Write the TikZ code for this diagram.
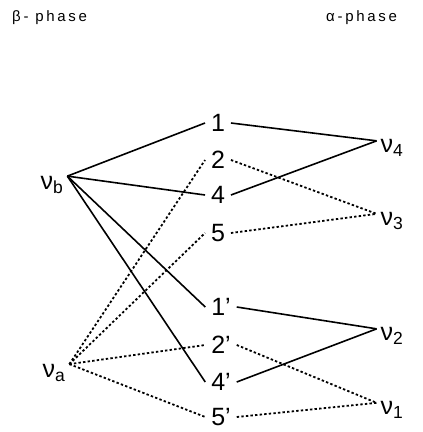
\documentclass[tikz,border=0pt]{standalone}
\usepackage{fontspec}
\setmainfont{Liberation Sans}
\newfontfamily\titlefont[LetterSpace=18]{Liberation Sans}
\begin{document}
\begin{tikzpicture}[x=1pt,y=-1pt,
  lab/.style={inner sep=0pt,outer sep=6pt,font=\fontsize{25}{27}\selectfont},
  nu/.style={inner sep=0pt,outer sep=4pt,font=\fontsize{25}{27}\selectfont},
  ttl/.style={anchor=west,inner sep=0pt,font=\titlefont\fontsize{15}{17}\selectfont},
  sol/.style={line width=1.6pt},
  dot/.style={line width=1.8pt,dash pattern=on 2.4pt off 2.2pt}]
\useasboundingbox (0,0) rectangle (423,432);
\node[ttl] (tb) at (12,18) {β- phase};
\node[ttl] (ta) at (326,18) {α-phase};
% middle digits
\node[lab] (n1) at (218,123) {1};
\node[lab] (n2) at (218,160) {2};
\node[lab] (n4) at (218,195) {4};
\node[lab] (n5) at (218,233) {5};
\node[lab] (m1) at (221,307) {1'};
\node[lab] (m2) at (221,345) {2'};
\node[lab] (m4) at (221,382) {4'};
\node[lab] (m5) at (221,417) {5'};
% nu nodes
\node[nu] (vb) at (52,185) {ν\textsubscript{b}};
\node[nu] (va) at (54,373) {ν\textsubscript{a}};
\node[nu] (v4) at (392,148) {ν\textsubscript{4}};
\node[nu] (v3) at (392,221) {ν\textsubscript{3}};
\node[nu] (v2) at (392,336) {ν\textsubscript{2}};
\node[nu] (v1) at (392,410) {ν\textsubscript{1}};
% connectors from nu_b
\draw[sol] (vb.30) -- (n1.west);
\draw[sol] (vb.30) -- (n4.west);
\draw[sol] (vb.30) -- (m1.west);
\draw[sol] (vb.30) -- (m4.west);
% from nu_a
\draw[dot] (va.30) -- (n2.west);
\draw[dot] (va.30) -- (n5.west);
\draw[dot] (va.30) -- (m2.west);
\draw[dot] (va.30) -- (m5.west);
% right side
\draw[sol] (n1.east) -- (v4.155);
\draw[sol] (n4.east) -- (v4.155);
\draw[dot] (n2.east) -- (v3.155);
\draw[dot] (n5.east) -- (v3.155);
\draw[sol] (m1.east) -- (v2.155);
\draw[sol] (m4.east) -- (v2.155);
\draw[dot] (m2.east) -- (v1.155);
\draw[dot] (m5.east) -- (v1.155);
\end{tikzpicture}
\end{document}
